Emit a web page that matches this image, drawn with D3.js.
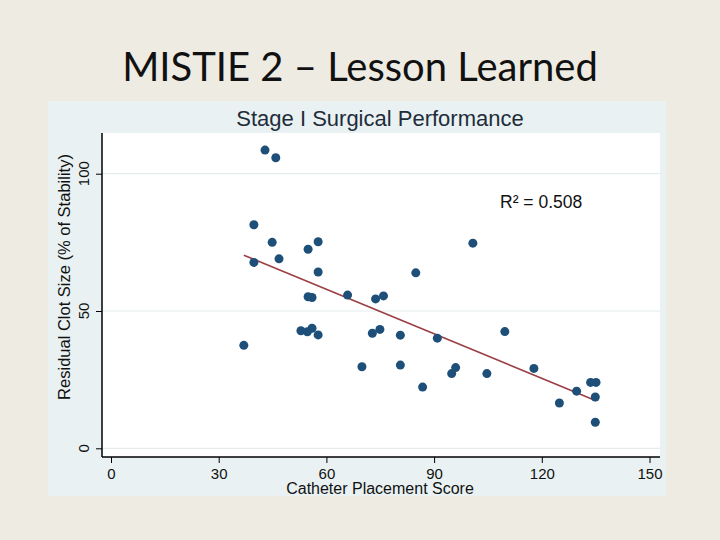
<!DOCTYPE html>
<html><head><meta charset="utf-8">
<script src="https://cdn.jsdelivr.net/npm/d3@7/dist/d3.min.js"></script>
<style>body{margin:0;background:#eeebe2;}svg{display:block;}</style>
</head><body>
<svg id="c" width="720" height="540"></svg>
<script>
const slideTitle = "MISTIE 2 – Lesson Learned";
const chartTitle = "Stage I Surgical Performance";
const xLabel = "Catheter Placement Score";
const yLabel = "Residual Clot Size (% of Stability)";
const r2Label = "R² = 0.508";
const xTicks = [0, 30, 60, 90, 120, 150];
const yTicks = [0, 50, 100];
const scoreX = [42.9, 45.9, 39.8, 44.9, 46.8, 39.8, 54.9, 57.7, 57.7, 54.9, 56.0, 65.9, 73.7, 75.9, 37.0, 52.9, 54.7, 56.0, 57.7, 72.8, 74.9, 69.9, 80.6, 80.6, 100.8, 84.9, 90.9, 109.7, 86.8, 94.9, 96.0, 104.7, 117.8, 124.9, 129.7, 133.6, 135.1, 134.9, 134.9];
const clotY = [108.6, 105.8, 81.4, 75.0, 69.0, 67.7, 72.5, 75.2, 64.2, 55.2, 54.9, 55.8, 54.4, 55.5, 37.5, 42.8, 42.4, 43.7, 41.3, 41.9, 43.3, 29.7, 41.2, 30.3, 74.7, 63.9, 40.1, 42.5, 22.3, 27.2, 29.4, 27.2, 29.1, 16.5, 20.8, 24.0, 24.0, 18.7, 9.5];
const fitIntercept = 90.3;
const fitSlope = -0.54;

const svg = d3.select("#c");
svg.append("text").attr("x", 360).attr("y", 81).attr("text-anchor", "middle")
  .attr("font-family", "Lato, 'Open Sans', sans-serif").attr("font-size", 40).attr("fill", "#111")
  .text(slideTitle);

svg.append("rect").attr("x", 48).attr("y", 101).attr("width", 618).attr("height", 395).attr("fill", "#e9f1f2");
const L = 102, R = 660, T = 133, B = 457;
svg.append("rect").attr("x", L).attr("y", T).attr("width", R - L).attr("height", B - T).attr("fill", "#ffffff");

const x = d3.scaleLinear().domain([0, 150]).range([111, 649.5]);
const y = d3.scaleLinear().domain([0, 100]).range([448.3, 173.7]);

svg.append("g").selectAll("line").data(yTicks).join("line")
  .attr("x1", L).attr("x2", R).attr("y1", d => y(d)).attr("y2", d => y(d))
  .attr("stroke", "#e6eced").attr("stroke-width", 1.2);

const font = "'Liberation Sans', Arial, sans-serif";
const xa = svg.append("g").attr("transform", `translate(0,${B})`)
  .call(d3.axisBottom(x).tickValues(xTicks).tickSize(6).tickPadding(5).tickSizeOuter(0));
xa.select(".domain").attr("d", `M${L},0H${R}`).attr("stroke", "#000").attr("stroke-width", 1.5);
xa.selectAll(".tick line").attr("stroke", "#000");
xa.selectAll(".tick text").attr("font-family", font).attr("font-size", 15).attr("fill", "#111");

const ya = svg.append("g").attr("transform", `translate(${L},0)`)
  .call(d3.axisLeft(y).tickValues(yTicks).tickSize(6).tickSizeOuter(0).tickFormat(""));
ya.select(".domain").attr("d", `M0,${T}V${B}`).attr("stroke", "#000").attr("stroke-width", 1.5);
ya.selectAll(".tick line").attr("stroke", "#000");
svg.append("g").selectAll("text").data(yTicks).join("text")
  .attr("transform", d => `translate(89,${y(d)}) rotate(-90)`)
  .attr("text-anchor", "middle")
  .attr("font-family", font).attr("font-size", 15).attr("fill", "#111")
  .text(d => d);

const xmin = d3.min(scoreX), xmax = d3.max(scoreX);
svg.append("line").attr("x1", x(xmin)).attr("y1", y(fitIntercept + fitSlope * xmin))
  .attr("x2", x(xmax)).attr("y2", y(fitIntercept + fitSlope * xmax))
  .attr("stroke", "#9b3f44").attr("stroke-width", 1.6);

svg.append("g").selectAll("circle").data(scoreX.map((v, i) => [v, clotY[i]])).join("circle")
  .attr("cx", d => x(d[0])).attr("cy", d => y(d[1])).attr("r", 4.5).attr("fill", "#1d4f78");

svg.append("text").attr("x", 380).attr("y", 126).attr("text-anchor", "middle")
  .attr("font-family", font).attr("font-size", 22).attr("fill", "#1f2d3a").text(chartTitle);
svg.append("text").attr("x", 380).attr("y", 494).attr("text-anchor", "middle")
  .attr("font-family", font).attr("font-size", 16).attr("fill", "#111").text(xLabel);
svg.append("text").attr("transform", "translate(70,277) rotate(-90)").attr("text-anchor", "middle")
  .attr("font-family", font).attr("font-size", 16.5).attr("fill", "#111").text(yLabel);
svg.append("text").attr("x", 500).attr("y", 208)
  .attr("font-family", font).attr("font-size", 17.5).attr("fill", "#111").text(r2Label);
</script>
</body></html>
